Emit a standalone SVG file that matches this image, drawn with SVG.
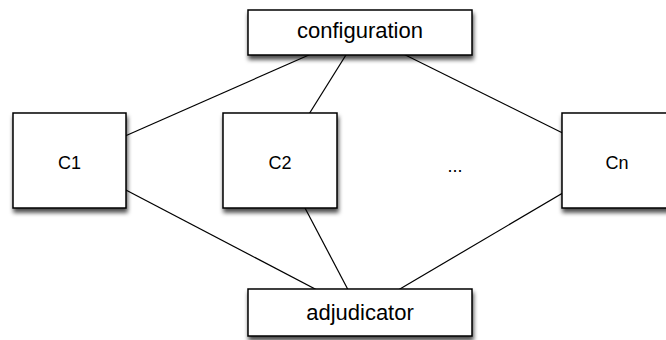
<svg xmlns="http://www.w3.org/2000/svg" width="666" height="340" viewBox="0 0 666 340">
  <style>
    .box { fill: #ffffff; stroke: #000000; stroke-width: 1.5; filter: url(#shadow); }
    .edge { stroke: #000000; stroke-width: 1.2; fill: none; }
    .label { font-family: "Liberation Sans", Arial, Helvetica, sans-serif; fill: #000000; text-anchor: middle; }
    .big { font-size: 22px; }
    .small { font-size: 18px; }
  </style>
  <defs>
    <filter id="shadow" x="-20%" y="-20%" width="140%" height="150%">
      <feDropShadow dx="1" dy="4" stdDeviation="2.2" flood-color="#000000" flood-opacity="0.7"/>
    </filter>
  </defs>
  <rect width="666" height="340" fill="#ffffff"/>

  <!-- connectors: drawn centre to centre, boxes cover the inner parts -->
  <g id="connectors">
    <line class="edge" x1="360" y1="32.5" x2="69.5" y2="160.5"/>
    <line class="edge" x1="360" y1="32.5" x2="280" y2="160.5"/>
    <line class="edge" x1="360" y1="32.5" x2="618" y2="160.5"/>
    <line class="edge" x1="69.5" y1="160.5" x2="360" y2="312.5"/>
    <line class="edge" x1="280" y1="160.5" x2="360" y2="312.5"/>
    <line class="edge" x1="618" y1="160.5" x2="360" y2="312.5"/>
  </g>

  <g id="configuration">
    <rect class="box" x="248" y="10" width="224" height="45"/>
    <text class="label big" x="360" y="37.5">configuration</text>
  </g>

  <g id="c1">
    <rect class="box" x="13" y="113" width="113" height="95"/>
    <text class="label small" x="69.5" y="168.5">C1</text>
  </g>

  <g id="c2">
    <rect class="box" x="223" y="113" width="114" height="95"/>
    <text class="label small" x="280" y="168.5">C2</text>
  </g>

  <g id="ellipsis">
    <text class="label small" x="455" y="172">...</text>
  </g>

  <g id="cn">
    <rect class="box" x="562" y="113" width="113" height="95"/>
    <text class="label small" x="617" y="168.5">Cn</text>
  </g>

  <g id="adjudicator">
    <rect class="box" x="248" y="289" width="224" height="47"/>
    <text class="label big" x="360" y="320">adjudicator</text>
  </g>
</svg>
